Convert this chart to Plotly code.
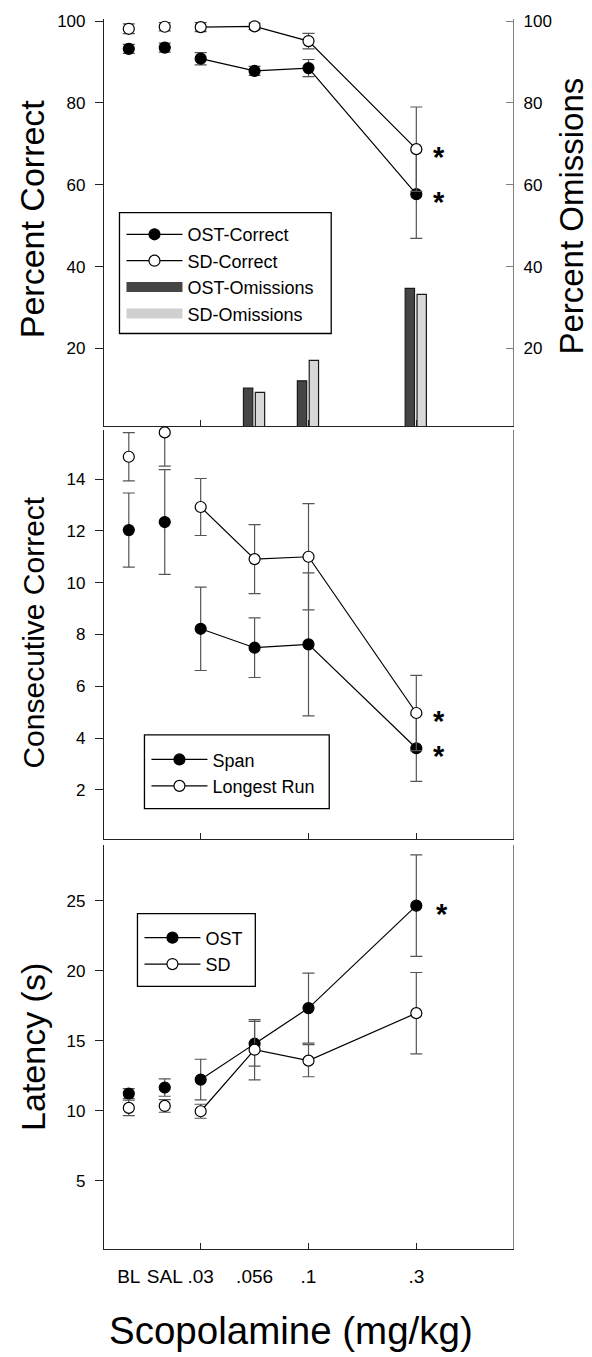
import plotly.graph_objects as go

# ---------------- data ----------------
doses = ["BL", "SAL", ".03", ".056", ".1", ".3"]
dose_pos = [0, 1, 2, 3.5, 5, 8]          # place of each condition on the x scale
dose_tick_idx = [2, 4, 5]                 # conditions that carry an axis tick mark

# Panel A: percent correct (left axis) and omissions (right axis)
ost_correct = [93.2, 93.5, 90.8, 87.8, 88.5, 57.7]
ost_correct_err = [1.1, 1.1, 1.5, 1.1, 2.1, 10.8]
sd_correct = [98.1, 98.6, 98.5, 98.7, 95.1, 68.7]
sd_correct_err = [1.2, 1.0, 1.1, 0.8, 1.9, 10.3]
ost_omissions = [0, 0, 0, 10.3, 12.1, 34.7]
sd_omissions = [0, 0, 0, 9.3, 17.1, 33.2]

# Panel B: consecutive correct
span = [12.03, 12.34, 8.22, 7.49, 7.62, 3.61]
span_err = [1.43, 2.02, 1.61, 1.15, 2.76, 1.28]
longest_run = [14.86, 15.80, 12.92, 10.91, 11.00, 4.97]
longest_run_err = [0.93, 1.30, 1.10, 1.33, 2.05, 1.45]

# Panel C: latency
lat_ost = [11.23, 11.66, 12.23, 14.79, 17.33, 24.64]
lat_ost_err = [0.35, 0.62, 1.45, 1.60, 2.50, 3.62]
lat_sd = [10.21, 10.35, 9.97, 14.36, 13.58, 16.97]
lat_sd_err = [0.55, 0.45, 0.50, 2.15, 1.15, 2.90]

# ---------------- styling ----------------
FONT = "Liberation Sans, Arial, Helvetica, sans-serif"
AXC = "#222222"
RAXC = "#808080"
ERRC = "#555555"
XR = [-0.69, 10.69]

fig = go.Figure()


def add_series(y, err, xa, ya, filled, name, legend):
    mk = dict(symbol="circle", size=11,
              color="black" if filled else "white",
              line=dict(color="black", width=1.2))
    eb = dict(type="data", color=ERRC, thickness=1.2, width=6)
    # BL and SAL are free-standing points
    fig.add_trace(go.Scatter(
        x=dose_pos[:2], y=y[:2], mode="markers", marker=mk,
        error_y=dict(eb, array=err[:2]), xaxis=xa, yaxis=ya,
        showlegend=False, cliponaxis=False, hoverinfo="skip"))
    # dose-response curve
    fig.add_trace(go.Scatter(
        x=dose_pos[2:], y=y[2:], mode="lines+markers", marker=mk,
        line=dict(color="black", width=1.2),
        error_y=dict(eb, array=err[2:]), xaxis=xa, yaxis=ya,
        name=name, legend=legend, cliponaxis=False))


# Panel A
fig.add_trace(go.Bar(x=dose_pos, y=ost_omissions, width=0.26, offset=-0.31,
                     marker=dict(color="#454545", line=dict(color="#1a1a1a", width=1.2)),
                     xaxis="x", yaxis="y2", showlegend=False))
fig.add_trace(go.Bar(x=dose_pos, y=sd_omissions, width=0.26, offset=0.02,
                     marker=dict(color="#d8d8d8", line=dict(color="#1a1a1a", width=1.2)),
                     xaxis="x", yaxis="y2", showlegend=False))
add_series(ost_correct, ost_correct_err, "x", "y", True, "OST-Correct", "legend")
add_series(sd_correct, sd_correct_err, "x", "y", False, "SD-Correct", "legend")
fig.add_trace(go.Scatter(x=[None], y=[None], mode="lines",
                         line=dict(color="#454545", width=13),
                         name="OST-Omissions", legend="legend", xaxis="x", yaxis="y"))
fig.add_trace(go.Scatter(x=[None], y=[None], mode="lines",
                         line=dict(color="#d0d0d0", width=13),
                         name="SD-Omissions", legend="legend", xaxis="x", yaxis="y"))

# Panel B
add_series(span, span_err, "x2", "y3", True, "Span", "legend2")
add_series(longest_run, longest_run_err, "x2", "y3", False, "Longest Run", "legend2")

# Panel C
add_series(lat_ost, lat_ost_err, "x3", "y5", True, "OST", "legend3")
add_series(lat_sd, lat_sd_err, "x3", "y5", False, "SD", "legend3")

# invisible helpers so overlay axes are drawn
for xa, ya in [("x2", "y4"), ("x3", "y6"), ("x4", "y5")]:
    fig.add_trace(go.Scatter(x=[None], y=[None], xaxis=xa, yaxis=ya,
                             showlegend=False, hoverinfo="skip"))

tick_x = [dose_pos[i] for i in dose_tick_idx]

base_x = dict(range=XR, showgrid=False, zeroline=False, showline=True,
              linecolor=AXC, linewidth=1.2, tickmode="array", tickvals=tick_x,
              ticks="inside", ticklen=6, tickwidth=1.2, tickcolor=AXC,
              showticklabels=False, domain=[0, 1])
base_yl = dict(showgrid=False, zeroline=False, showline=True, linecolor=AXC,
               linewidth=1.2, ticks="outside", ticklen=8, tickwidth=1.2,
               tickcolor=AXC, tickfont=dict(size=17), ticklabelstandoff=6)
base_yr = dict(showgrid=False, zeroline=False, showline=True, linecolor=RAXC,
               linewidth=1.2, side="right")


def px_x(px):
    return (px - 103.5) / 409.5


def px_y(py):
    return (1249 - py) / 1232


# annotations: stars and axis titles
ann = []
star = dict(text="<b>*</b>", showarrow=False, font=dict(size=29, color="black"),
            xshift=23, yshift=-8, xanchor="center", yanchor="middle")
ann.append(dict(star, x=dose_pos[5], y=sd_correct[5], xref="x", yref="y"))
ann.append(dict(star, x=dose_pos[5], y=ost_correct[5], xref="x", yref="y"))
ann.append(dict(star, x=dose_pos[5], y=longest_run[5], xref="x2", yref="y3"))
ann.append(dict(star, x=dose_pos[5], y=span[5], xref="x2", yref="y3"))
ann.append(dict(star, x=dose_pos[5], y=lat_ost[5], xref="x3", yref="y5", xshift=26))

for txt, x, y, size in [("Percent Correct", 31, 217, 34),
                        ("Percent Omissions", 572, 214, 33),
                        ("Consecutive Correct", 32, 632, 30),
                        ("Latency (s)", 33, 1047, 34)]:
    ann.append(dict(text=txt, x=px_x(x), y=px_y(y), xref="paper", yref="paper",
                    textangle=-90, showarrow=False, xanchor="center",
                    yanchor="middle", font=dict(size=size, color="black")))
ann.append(dict(text="Scopolamine (mg/kg)", x=px_x(291), y=px_y(1331),
                xref="paper", yref="paper", showarrow=False, xanchor="center",
                yanchor="middle", font=dict(size=38.5, color="black")))

# legend frames (left, top, right, bottom in page pixels)
frames = {"legend": (119, 211, 331, 332),
          "legend2": (144, 734, 329, 808),
          "legend3": (137, 913, 255, 986)}
shapes = []
legends = {}
for key, (l, t, r, b) in frames.items():
    shapes.append(dict(type="rect", xref="paper", yref="paper",
                       x0=px_x(l), x1=px_x(r), y0=px_y(b), y1=px_y(t),
                       line=dict(color="black", width=1.3), fillcolor="white",
                       layer="above"))
    legends[key] = dict(bgcolor="rgba(0,0,0,0)", borderwidth=0,
                        font=dict(size=18, color="black"), xanchor="left",
                        yanchor="middle", traceorder="normal", itemwidth=56,
                        x=px_x(l + 2), y=px_y((t + b) / 2 + 1))

fig.update_layout(
    width=592, height=1357,
    margin=dict(l=103.5, r=79, t=17, b=108, pad=0),
    plot_bgcolor="white", paper_bgcolor="white",
    font=dict(family=FONT, color="black", size=17),
    barmode="overlay",
    showlegend=True,
    xaxis=dict(base_x, anchor="y"),
    yaxis=dict(base_yl, domain=[0.6688, 1], anchor="x", range=[0.98, 100.49],
               tickvals=[20, 40, 60, 80, 100]),
    yaxis2=dict(base_yr, overlaying="y", anchor="x", range=[0.98, 100.49],
                tickvals=[20, 40, 60, 80, 100], ticks="inside", ticklen=7,
                tickwidth=1.2, tickcolor=RAXC, tickfont=dict(size=17),
                ticklabelstandoff=6),
    xaxis2=dict(base_x, anchor="y3"),
    yaxis3=dict(base_yl, domain=[0.3336, 0.6656], anchor="x2", range=[0.12, 15.88],
                tickvals=[2, 4, 6, 8, 10, 12, 14]),
    yaxis4=dict(base_yr, overlaying="y3", anchor="x2", range=[0.12, 15.88],
                ticks="", showticklabels=False),
    xaxis3=dict(base_x, anchor="y5", tickvals=dose_pos, ticktext=doses,
                ticks="", showticklabels=True, tickfont=dict(size=19),
                ticklabelstandoff=10),
    xaxis4=dict(range=XR, overlaying="x3", anchor="y5", showgrid=False,
                zeroline=False, showline=False, tickmode="array", tickvals=tick_x,
                ticks="inside", ticklen=6, tickwidth=1.2, tickcolor=AXC,
                showticklabels=False),
    yaxis5=dict(base_yl, domain=[0, 0.3287], anchor="x3", range=[0.14, 28.99],
                tickvals=[5, 10, 15, 20, 25]),
    yaxis6=dict(base_yr, overlaying="y5", anchor="x3", range=[0.14, 28.99],
                ticks="", showticklabels=False),
    legend=legends["legend"],
    legend2=legends["legend2"],
    legend3=legends["legend3"],
    shapes=shapes,
    annotations=ann,
)

fig.write_html("out.html")
